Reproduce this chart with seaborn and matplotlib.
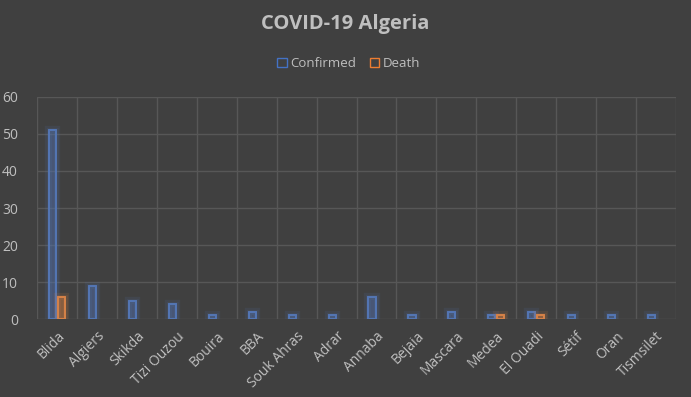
import pandas as pd
import matplotlib
matplotlib.use('Agg')
import matplotlib.pyplot as plt
import matplotlib.patheffects as pe
from matplotlib.patches import Patch
import seaborn as sns

# Data
wilayas = ['Blida', 'Algiers', 'Skikda', 'Tizi Ouzou', 'Bouira', 'BBA', 'Souk Ahras',
           'Adrar', 'Annaba', 'Bejaia', 'Mascara', 'Medea', 'El Ouadi', 'Sétif',
           'Oran', 'Tismsilet']
confirmed = [51, 9, 5, 4, 1, 2, 1, 1, 6, 1, 2, 1, 2, 1, 1, 1]
death = [6, 0, 0, 0, 0, 0, 0, 0, 0, 0, 0, 1, 1, 0, 0, 0]

df = pd.DataFrame({'Wilaya': wilayas * 2,
                   'Cases': confirmed + death,
                   'Type': ['Confirmed'] * len(wilayas) + ['Death'] * len(wilayas)})

bg = '#404040'
grid_c = '#575757'
text_c = '#bfbfbf'
blue = '#4472C4'
orange = '#ED7D31'

sns.set_theme(style='dark')
plt.rcParams['font.family'] = ['Open Sans', 'DejaVu Sans']

fig = plt.figure(figsize=(6.91, 3.97), dpi=100, facecolor=bg)
ax = fig.add_axes([0.054, 0.196, 0.924, 0.56])
ax.set_facecolor(bg)

sns.barplot(data=df, x='Wilaya', y='Cases', hue='Type', order=wilayas,
            palette=[blue, orange], width=0.45, ax=ax, legend=False)

# outline bars with a faint fill and soft glow, hide zero bars
for p in ax.patches:
    c = p.get_facecolor()
    if p.get_height() == 0:
        p.set_visible(False)
        continue
    # shrink a little so the two bars have a gap
    w = p.get_width()
    p.set_x(p.get_x() + w * 0.1)
    p.set_width(w * 0.8)
    p.set_edgecolor(c[:3])
    p.set_facecolor((*c[:3], 0.08))
    p.set_linewidth(1.1)
    p.set_path_effects([pe.withStroke(linewidth=6, foreground=c[:3], alpha=0.12),
                        pe.withStroke(linewidth=3.5, foreground=c[:3], alpha=0.12),
                        pe.Normal()])

ax.set_ylim(0, 60)
ax.set_xlim(-0.5, len(wilayas) - 0.5)
ax.set_yticks(range(0, 61, 10))
ax.set_xticks([i + 0.5 for i in range(-1, len(wilayas))], minor=True)
ax.grid(axis='y', which='major', color=grid_c, linewidth=1)
ax.grid(axis='x', which='minor', color=grid_c, linewidth=1)
ax.grid(axis='x', which='major', visible=False)
ax.set_axisbelow(True)
for s in ax.spines.values():
    s.set_visible(False)

ax.tick_params(axis='both', which='both', length=0, colors=text_c, labelsize=10)
ax.tick_params(axis='y', pad=14)
ax.tick_params(axis='x', pad=7)
plt.setp(ax.get_xticklabels(), rotation=45, ha='right', rotation_mode='anchor')
ax.set_xlabel('')
ax.set_ylabel('')

fig.text(0.5, 0.94, 'COVID-19 Algeria', ha='center', va='center',
         color=text_c, fontsize=14.5, fontweight='bold')

handles = [Patch(facecolor='none', edgecolor=blue, label='Confirmed'),
           Patch(facecolor='none', edgecolor=orange, label='Death')]
leg = fig.legend(handles=handles, loc='center', bbox_to_anchor=(0.505, 0.839), ncol=2,
                 frameon=False, fontsize=9.5, handlelength=0.7, handleheight=0.7,
                 handletextpad=0.3, columnspacing=1.0)
for t in leg.get_texts():
    t.set_color(text_c)

fig.savefig('out.png', dpi=100, facecolor=bg)
